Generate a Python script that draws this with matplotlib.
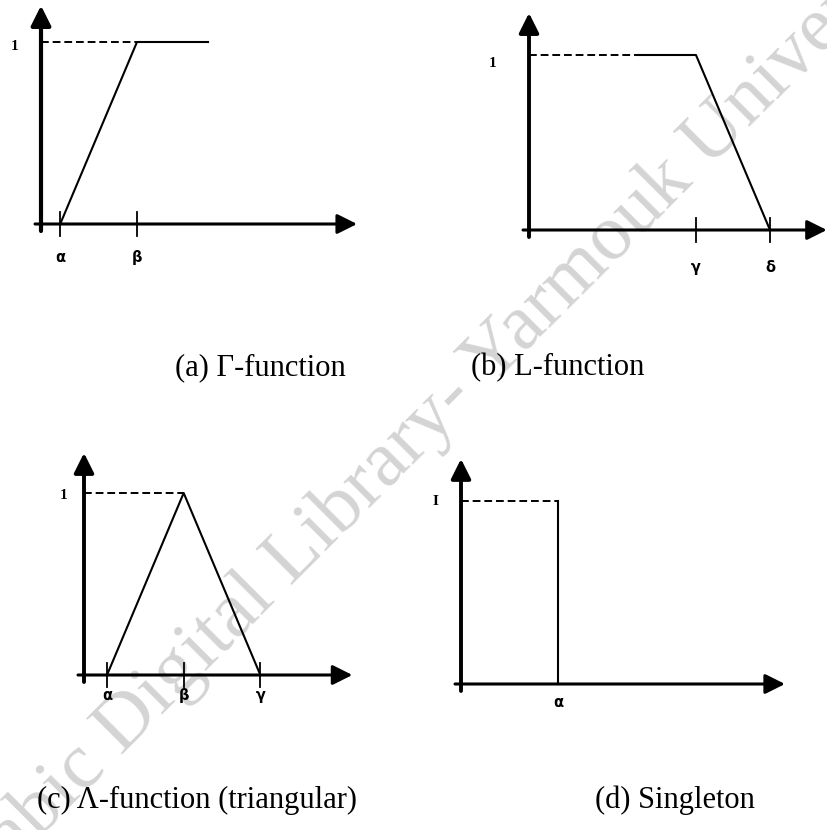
import matplotlib
matplotlib.use("Agg")
import matplotlib.pyplot as plt

# membership function breakpoints (abstract units along the universe of discourse)
# (a) Gamma-function: rises from alpha to beta, then stays at 1
gamma_x = [1.0, 5.0, 8.7]
gamma_y = [0.0, 1.0, 1.0]
gamma_ticks = [1.0, 5.0]
gamma_labels = ["α", "β"]

# (b) L-function: 1 up to gamma, falls to 0 at delta
l_dash_x = [0.0, 3.9]
l_x = [3.9, 6.0, 8.66]
l_y = [1.0, 1.0, 0.0]
l_ticks = [6.0, 8.66]
l_labels = ["γ", "δ"]

# (c) Lambda-function (triangular)
tri_x = [1.2, 5.2, 9.2]
tri_y = [0.0, 1.0, 0.0]
tri_ticks = [1.2, 5.2, 9.2]
tri_labels = ["α", "β", "γ"]

# (d) singleton at alpha
single_x = [5.0, 5.0]
single_y = [1.0, 0.0]
single_ticks = [5.0]
single_labels = ["α"]

captions = ["(a) Γ-function", "(b) L-function",
            "(c) Λ-function (triangular)", "(d) Singleton"]
watermark = "Arabic Digital Library- Yarmouk University"

W, H = 828, 830
fig = plt.figure(figsize=(W / 100, H / 100), dpi=100)
fig.patch.set_facecolor("white")

SERIF = "Liberation Serif"


def panel(ox, oy, ux, uy, x_end, y_end, ylw=2.8, xlw=2.2):
    """Axes placed so data (0, 0) lands on pixel (ox, oy)."""
    x0, x1 = -30 / ux, x_end + 10 / ux
    y0, y1 = -40 / uy, y_end + 5 / uy
    left = ox + x0 * ux
    right = ox + x1 * ux
    top = oy - y1 * uy
    bottom = oy - y0 * uy
    ax = fig.add_axes([left / W, 1 - bottom / H, (right - left) / W, (bottom - top) / H])
    ax.set_xlim(x0, x1)
    ax.set_ylim(y0, y1)
    ax.axis("off")
    ax.set_facecolor("none")
    head = "-|>,head_length=12,head_width=6"
    ax.annotate("", xy=(x_end, 0), xytext=(-6 / ux, 0),
                arrowprops=dict(arrowstyle=head, lw=xlw, color="k",
                                shrinkA=0, shrinkB=0, mutation_scale=1))
    ax.annotate("", xy=(0, y_end), xytext=(0, -7 / uy),
                arrowprops=dict(arrowstyle=head, lw=ylw, color="k",
                                shrinkA=0, shrinkB=0, mutation_scale=1))
    return ax


def greek(ax, x, lab, drop):
    ax.annotate(lab, (x, 0), xytext=(0, -drop), textcoords="offset pixels",
                ha="center", va="center", fontsize=10.5, fontweight="bold",
                family="DejaVu Sans")


def ticks(ax, xs, labels, drop, uy):
    for x, lab in zip(xs, labels):
        ax.plot([x, x], [-12 / uy, 12 / uy], color="k", lw=1.3)
        greek(ax, x, lab, drop)


def one_label(ax, dx, dy, text="1"):
    ax.annotate(text, (0, 1), xytext=(-dx, -dy), textcoords="offset pixels",
                ha="center", va="center", fontsize=11, fontweight="bold", family=SERIF)


# watermark behind everything
fig.text(437 / W, 1 - 414 / H, watermark, rotation=45, rotation_mode="anchor",
         ha="center", va="center", fontsize=57, family=SERIF, color="#d4d4d4", zorder=-5)

# (a)
ax = panel(41, 224, 19.2, 182, 16.46, 1.2, ylw=3.0)
ax.plot(gamma_x, gamma_y, color="k", lw=1.5)
ax.plot([0, gamma_x[1]], [1, 1], color="k", lw=1.4, ls=(0, (4, 2)))
ticks(ax, gamma_ticks, gamma_labels, 33, 182)
one_label(ax, 26, 5)

# (b)
ax = panel(529, 230, 27.83, 175, 10.7, 1.24)
ax.plot(l_dash_x, [1, 1], color="k", lw=1.4, ls=(0, (4, 2)))
ax.plot(l_x, l_y, color="k", lw=1.5)
ticks(ax, l_ticks, l_labels, 37, 175)
one_label(ax, 36, 8)

# (c)
ax = panel(84, 675, 19.17, 182, 14.0, 1.22)
ax.plot(tri_x, tri_y, color="k", lw=1.5)
ax.plot([0, tri_x[1]], [1, 1], color="k", lw=1.4, ls=(0, (4, 2)))
ticks(ax, tri_ticks, tri_labels, 20, 182)
one_label(ax, 20, 2)

# (d)
ax = panel(461, 684, 19.4, 183, 16.7, 1.23)
ax.plot(single_x, single_y, color="k", lw=1.5)
ax.plot([0, single_x[0]], [1, 1], color="k", lw=1.4, ls=(0, (4, 2)))
greek(ax, single_ticks[0], single_labels[0], 18)
one_label(ax, 26, 0, "I")

# captions
cap_pos = [(260, 368), (558, 368), (197, 800), (675, 800)]
for (cx, cy), cap in zip(cap_pos, captions):
    fig.text(cx / W, 1 - cy / H, cap, ha="center", va="center",
             fontsize=22, family=SERIF, color="k")

fig.savefig("out.png", dpi=100, facecolor="white")
